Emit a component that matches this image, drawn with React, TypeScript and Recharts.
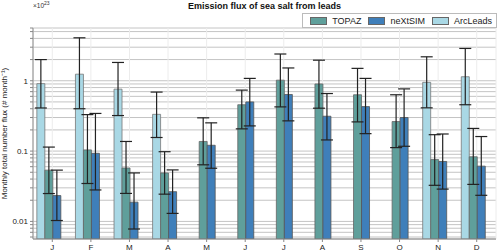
import React from "react";
import {
  BarChart,
  Bar,
  XAxis,
  YAxis,
  CartesianGrid,
  ErrorBar,
  Legend,
} from "recharts";

const months = ["J", "F", "M", "A", "M", "J", "J", "A", "S", "O", "N", "D"];

// values in units of 1e23 # month^-1
const arcLeads = [0.91, 1.24, 0.76, 0.333, null, null, null, null, null, null, 0.95, 1.14];
const arcLow = [0.41, 0.4, 0.32, 0.156, null, null, null, null, null, null, 0.412, 0.456];
const arcHigh = [2.0, 4.08, 1.82, 0.69, null, null, null, null, null, null, 2.19, 2.88];

const topaz = [0.0536, 0.104, 0.0575, 0.0489, 0.137, 0.456, 1.02, 0.9, 0.632, 0.263, 0.0757, 0.083];
const topazLow = [0.0249, 0.0346, 0.025, 0.0244, 0.0638, 0.207, 0.425, 0.407, 0.26, 0.112, 0.0326, 0.0336];
const topazHigh = [0.114, 0.33, 0.137, 0.098, 0.297, 0.736, 2.4, 1.96, 1.5, 0.632, 0.171, 0.21];

const nextsim = [0.0233, 0.093, 0.0188, 0.0265, 0.121, 0.5, 0.638, 0.313, 0.429, 0.3, 0.0712, 0.0611];
const nextsimLow = [0.0103, 0.028, 0.0078, 0.013, 0.057, 0.228, 0.269, 0.144, 0.177, 0.117, 0.0288, 0.0235];
const nextsimHigh = [0.0536, 0.343, 0.0489, 0.054, 0.252, 1.08, 1.52, 0.658, 1.08, 0.766, 0.175, 0.161];

const yTicks = [
  0.006, 0.007, 0.008, 0.009,
  0.01, 0.02, 0.03, 0.04, 0.05, 0.06, 0.07, 0.08, 0.09,
  0.1, 0.2, 0.3, 0.4, 0.5, 0.6, 0.7, 0.8, 0.9,
  1, 2, 3, 4, 5, 5.623,
];
const yLabels: Record<number, string> = { 0.01: "0.01", 0.1: "0.1", 1: "1" };

const colors = { topaz: "#5f9f9b", nextsim: "#3f7fba", arc: "#a9d8e5" };
const legendItems = [
  { name: "TOPAZ", color: colors.topaz },
  { name: "neXtSIM", color: colors.nextsim },
  { name: "ArcLeads", color: colors.arc },
];

const err = (v: number | null, lo: number | null, hi: number | null) =>
  v == null || lo == null || hi == null ? null : [v - lo, hi - v];

const data = months.map((m, i) => ({
  idx: i,
  month: m,
  arc: arcLeads[i],
  arcErr: err(arcLeads[i], arcLow[i], arcHigh[i]),
  topaz: topaz[i],
  topazErr: err(topaz[i], topazLow[i], topazHigh[i]),
  nextsim: nextsim[i],
  nextsimErr: err(nextsim[i], nextsimLow[i], nextsimHigh[i]),
  blank: null,
}));

const font = "'Liberation Sans', Arial, sans-serif";

function LegendBox() {
  return (
    <div
      style={{
        display: "flex",
        alignItems: "center",
        background: "#fff",
        border: "1px solid #bbb",
        height: 13,
        padding: "0 4px 0 0",
        fontFamily: font,
        fontSize: 9,
        color: "#222",
      }}
    >
      {legendItems.map((it) => (
        <div key={it.name} style={{ display: "flex", alignItems: "center", marginLeft: 7 }}>
          <span
            style={{
              display: "inline-block",
              width: 15,
              height: 6,
              background: it.color,
              border: "1px solid #666",
              marginRight: 5,
            }}
          />
          {it.name}
        </div>
      ))}
    </div>
  );
}

export default function App() {
  return (
    <div style={{ position: "absolute", left: 0, top: 0, width: 500, height: 252, background: "#fff", fontFamily: font }}>
      <div
        style={{
          position: "absolute",
          left: 33,
          width: 463,
          top: 1,
          textAlign: "center",
          fontWeight: "bold",
          fontSize: 9,
          color: "#111",
        }}
      >
        Emission flux of sea salt from leads
      </div>
      <div style={{ position: "absolute", left: 33, top: 0, fontSize: 6.5, color: "#333" }}>
        ×10<sup style={{ fontSize: 5 }}>23</sup>
      </div>
      <BarChart
        width={500}
        height={252}
        data={data}
        margin={{ top: 13, right: 4, bottom: 0, left: 0 }}
        barCategoryGap="10%"
        barGap={0}
      >
        <CartesianGrid vertical={false} stroke="#c4c4c4" strokeWidth={1} />
        <CartesianGrid horizontal={false} stroke="#ececec" strokeWidth={1} />
        <XAxis
          dataKey="idx"
          tickFormatter={(i) => months[i]}
          height={13}
          tickSize={3}
          axisLine={{ stroke: "#888" }}
          tickLine={{ stroke: "#888" }}
          tick={{ fontSize: 8, fill: "#222", fontFamily: font }}
          interval={0}
        />
        <YAxis
          scale="log"
          type="number"
          domain={[0.005623, 5.623]}
          allowDataOverflow
          ticks={yTicks}
          interval={0}
          tickFormatter={(v) => yLabels[v] ?? ""}
          width={33}
          tickSize={3}
          axisLine={{ stroke: "#888" }}
          tickLine={{ stroke: "#888" }}
          tick={{ fontSize: 8, fill: "#222", fontFamily: font }}
          label={{
            value: "Monthly total number flux (# month\u207B\u00B9)",
            angle: -90,
            position: "insideLeft",
            offset: 4,
            style: { fontSize: 8, fill: "#222", fontFamily: font, textAnchor: "middle" },
          }}
        />
        <Legend
          verticalAlign="top"
          align="right"
          content={() => <LegendBox />}
          wrapperStyle={{ position: "absolute", top: 13, right: 3, left: "auto", width: "auto" }}
        />
        <Bar dataKey="arc" name="ArcLeads" fill={colors.arc} stroke="#777" strokeWidth={0.8} isAnimationActive={false}>
          <ErrorBar dataKey="arcErr" stroke="#222" strokeWidth={1.2} width={6} />
        </Bar>
        <Bar dataKey="topaz" name="TOPAZ" fill={colors.topaz} stroke="#666" strokeWidth={0.8} isAnimationActive={false}>
          <ErrorBar dataKey="topazErr" stroke="#222" strokeWidth={1.2} width={6} />
        </Bar>
        <Bar dataKey="nextsim" name="neXtSIM" fill={colors.nextsim} stroke="#555" strokeWidth={0.8} isAnimationActive={false}>
          <ErrorBar dataKey="nextsimErr" stroke="#222" strokeWidth={1.2} width={6} />
        </Bar>
        <Bar dataKey="blank" fill="none" isAnimationActive={false} legendType="none" />
      </BarChart>
    </div>
  );
}
